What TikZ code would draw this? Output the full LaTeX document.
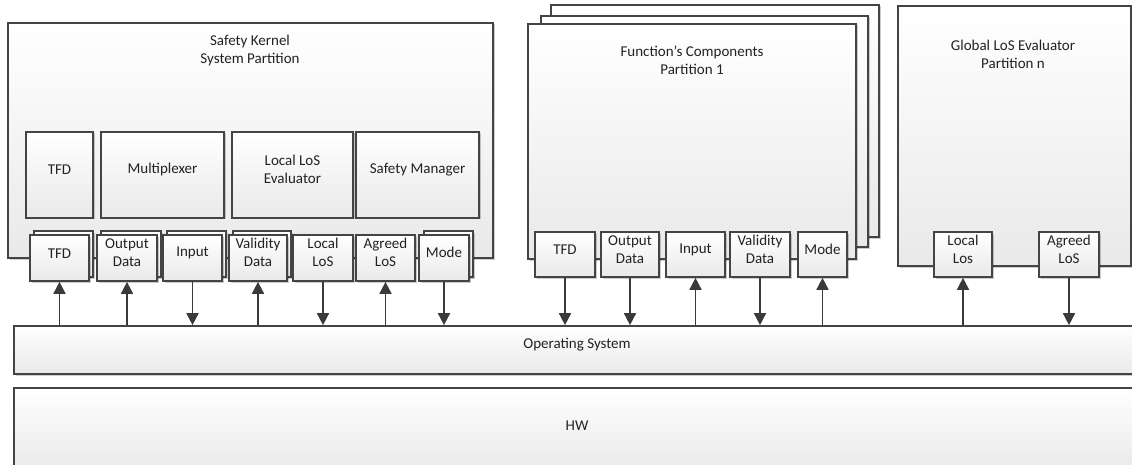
\documentclass[tikz,border=0pt]{standalone}
\usepackage{fontspec}
\setmainfont{Carlito}
\usetikzlibrary{fit,shadows,arrows.meta}
\definecolor{edge}{RGB}{68,68,68}
\definecolor{wire}{RGB}{58,58,58}
\definecolor{lowfill}{RGB}{233,233,233}
\definecolor{txt}{RGB}{34,34,34}
\tikzset{
  blk/.style={draw=edge, line width=1.7pt, top color=white, bottom color=lowfill,
    inner sep=0pt, align=center, text=txt,
    font=\fontsize{15}{18}\selectfont,
    drop shadow={shadow xshift=1.5pt, shadow yshift=-1.5pt, opacity=0.2, fill=black}},
  ttl/.style={align=center, text=txt, font=\fontsize{15}{18}\selectfont, inner sep=0pt},
  arr/.style={draw=wire, line width=1.7pt, -{Triangle[width=12pt,length=12pt]}},
}
% box from its top-left and bottom-right corners (pixel-like units)
\newcommand{\blkbox}[6]{\node[blk, fit={(#2,#3) (#4,#5)}] (#1) {#6};}
\begin{document}
\begin{tikzpicture}[x=1pt, y=-1pt]
\useasboundingbox (0,0) rectangle (1132,465);

% ---------- Safety Kernel partition ----------
\blkbox{sk}{8}{23}{493}{258}{}
\node[ttl] (skT) at (250,51) {Safety Kernel\\System Partition};
\blkbox{skTFD}{26}{132}{93}{218}{TFD}
\blkbox{skMux}{101}{132}{224}{218}{Multiplexer}
\blkbox{skLLE}{232}{132}{353}{218}{Local LoS\\Evaluator}
\blkbox{skSM}{356}{132}{479}{218}{Safety Manager}

% stacked copies behind the ports
\blkbox{skTFDb}{34}{231}{93}{277}{}
\blkbox{skOutb}{101}{231}{161}{277}{}
\blkbox{skInb}{167}{231}{226}{277}{}
\blkbox{skValb}{233}{231}{291}{277}{}
\blkbox{skModeb}{424}{231}{473}{277}{}

% ports
\blkbox{skpTFD}{30}{235}{89}{281}{TFD}
\blkbox{skpOut}{97}{235}{157}{281}{Output\\Data}
\blkbox{skpIn}{163}{235}{222}{281}{Input}
\blkbox{skpVal}{229}{235}{287}{281}{Validity\\Data}
\blkbox{skpLoc}{293}{235}{353}{281}{Local\\LoS}
\blkbox{skpAgr}{356}{235}{415}{281}{Agreed\\LoS}
\blkbox{skpMode}{419}{235}{469}{281}{Mode}

% ---------- Function's Components partitions ----------
\blkbox{fc3}{551}{5}{879}{237}{}
\blkbox{fc2}{541}{16}{868}{247}{}
\blkbox{fc}{528}{24}{856}{259}{}
\node[ttl] (fcT) at (692,60.5) {Function’s Components\\Partition 1};
\blkbox{fcpTFD}{535}{232}{595}{277}{TFD}
\blkbox{fcpOut}{601}{232}{659}{277}{Output\\Data}
\blkbox{fcpIn}{666}{232}{725}{277}{Input}
\blkbox{fcpVal}{730}{232}{790}{277}{Validity\\Data}
\blkbox{fcpMode}{798}{232}{847}{277}{Mode}

% ---------- Global LoS Evaluator partition ----------
\blkbox{gl}{898}{6}{1131}{266}{}
\node[ttl] (glT) at (1013,54.5) {Global LoS Evaluator\\Partition n};
\blkbox{glpLoc}{934}{232}{992}{277}{Local\\Los}
\blkbox{glpAgr}{1039}{232}{1099}{277}{Agreed\\LoS}

% ---------- Operating system and hardware ----------
\blkbox{os}{14}{326}{1140}{374}{Operating System}
\blkbox{hw}{14}{388}{1140}{472}{HW}

% ---------- connectors ----------
\draw[arr] (os.north -| skpTFD.south) -- (skpTFD.south);
\draw[arr] (os.north -| skpOut.south) -- (skpOut.south);
\draw[arr] (skpIn.south) -- (skpIn.south |- os.north);
\draw[arr] (os.north -| skpVal.south) -- (skpVal.south);
\draw[arr] (skpLoc.south) -- (skpLoc.south |- os.north);
\draw[arr] (os.north -| skpAgr.south) -- (skpAgr.south);
\draw[arr] (skpMode.south) -- (skpMode.south |- os.north);

\draw[arr] (fcpTFD.south) -- (fcpTFD.south |- os.north);
\draw[arr] (fcpOut.south) -- (fcpOut.south |- os.north);
\draw[arr] (os.north -| fcpIn.south) -- (fcpIn.south);
\draw[arr] (fcpVal.south) -- (fcpVal.south |- os.north);
\draw[arr] (os.north -| fcpMode.south) -- (fcpMode.south);

\draw[arr] (os.north -| glpLoc.south) -- (glpLoc.south);
\draw[arr] (glpAgr.south) -- (glpAgr.south |- os.north);
\end{tikzpicture}
\end{document}
